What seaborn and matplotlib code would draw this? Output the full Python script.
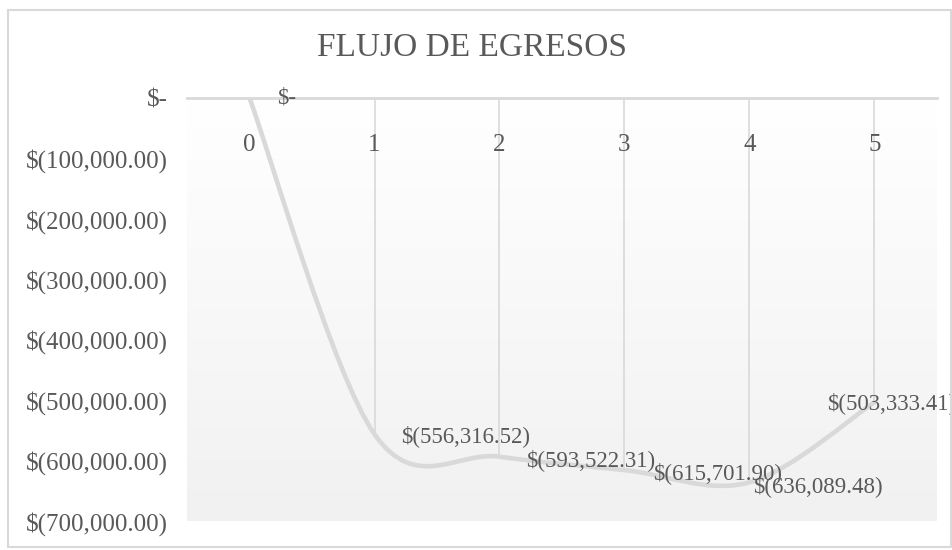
import matplotlib.pyplot as plt
import numpy as np
import seaborn as sns
from matplotlib.path import Path
from matplotlib.patches import PathPatch, Rectangle
from matplotlib.colors import LinearSegmentedColormap

periods = [0, 1, 2, 3, 4, 5]
egresos = [0.0, -556316.52, -593522.31, -615701.90, -636089.48, -503333.41]
y_ticks = [0, -100000, -200000, -300000, -400000, -500000, -600000, -700000]

TEXT = "#595959"
GRID = "#d9d9d9"


def money(v):
    if v == 0:
        return "$-"
    return f"$({abs(v):,.2f})" if v < 0 else f"${v:,.2f}"


def smooth_path(xs, ys):
    # Excel-like smoothed line: cubic Bezier through every point
    pts = np.column_stack([xs, ys])
    n = len(pts)
    verts = [pts[0]]
    codes = [Path.MOVETO]
    for i in range(n - 1):
        p_prev = pts[max(i - 1, 0)]
        p0, p1 = pts[i], pts[i + 1]
        p_next = pts[min(i + 2, n - 1)]
        verts += [p0 + (p1 - p_prev) / 6, p1 - (p_next - p0) / 6, p1]
        codes += [Path.CURVE4] * 3
    return Path(verts, codes)


sns.set_theme(style="white")
plt.rcParams["font.family"] = ["Liberation Serif", "DejaVu Serif"]

fig = plt.figure(figsize=(9.53, 5.5), dpi=100)
ax = fig.add_axes([187 / 953, 29 / 550, 750 / 953, 423 / 550])

# soft vertical gradient behind the plot area
grad = LinearSegmentedColormap.from_list("bg", ["#f1f1f1", "#ffffff"])
ax.imshow(np.linspace(0, 1, 256).reshape(-1, 1), cmap=grad, aspect="auto",
          extent=[0, 1, 0, 1], transform=ax.transAxes, zorder=0, origin="lower")

# drop lines from the category axis down to each point
ax.vlines(periods, egresos, 0, color=GRID, lw=1.2, zorder=1)

sns.lineplot(x=periods, y=egresos, ax=ax, lw=0, zorder=2)
ax.add_patch(PathPatch(smooth_path(periods, egresos), fill=False,
                       ec=GRID, lw=3.3, capstyle="round", zorder=3))

ax.set_xlim(-0.5, 5.5)
ax.set_ylim(-700000, 0)
ax.set_yticks(y_ticks)
ax.set_yticklabels([money(v) for v in y_ticks], fontsize=18, color=TEXT)
ax.tick_params(axis="y", length=0, pad=14)

ax.xaxis.tick_top()
ax.set_xticks(periods)
ax.set_xticklabels([str(p) for p in periods], fontsize=18, color=TEXT)
ax.tick_params(axis="x", length=0, pad=-42)
ax.set_axisbelow(False)

for side in ["left", "right", "bottom"]:
    ax.spines[side].set_visible(False)
ax.spines["top"].set_color(GRID)
ax.spines["top"].set_linewidth(2)

# data labels, placed like the original
label_offsets = [(28, 0), (27, -2), (27, -3), (29, -3), (4, -4), (-47, -1)]
for x, y, (dx, dy) in zip(periods, egresos, label_offsets):
    ax.annotate(money(y), (x, y), xytext=(dx, dy), textcoords="offset pixels",
                ha="left", va="center", fontsize=16.5, color=TEXT,
                annotation_clip=False, zorder=5)

fig.text(472 / 953, 1 - 48 / 550, "FLUJO DE EGRESOS", ha="center", va="center",
         fontsize=24, color=TEXT)

fig.patches.append(Rectangle((8 / 953, 3 / 550), 943 / 953, 537 / 550,
                             transform=fig.transFigure, fill=False,
                             ec=GRID, lw=1.5))

fig.savefig("out.png", dpi=100)
